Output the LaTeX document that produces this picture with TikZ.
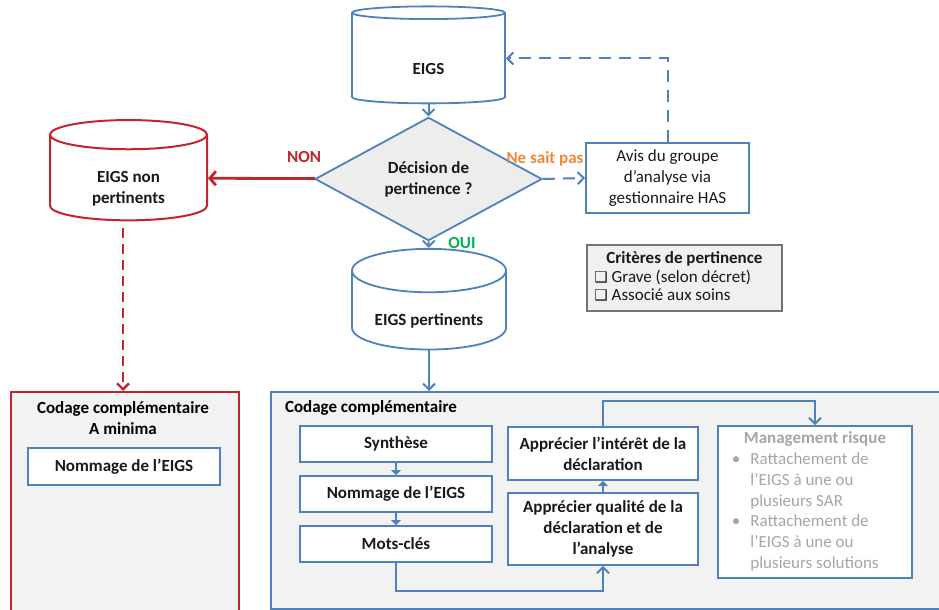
\documentclass[tikz,border=0pt]{standalone}
\usepackage{fontspec}
\setmainfont{Carlito}
\newfontfamily\symfont{DejaVu Sans}
\usetikzlibrary{arrows.meta, positioning, calc, shapes.geometric}
\definecolor{flowblue}{HTML}{4F81BD}
\definecolor{flowred}{HTML}{C0262D}
\definecolor{flowgreen}{HTML}{00B050}
\definecolor{floworange}{HTML}{F0883A}
\definecolor{panelgray}{HTML}{F2F2F2}
\definecolor{mgmtgray}{HTML}{A6A6A6}

\tikzset{
  txt/.style={font=\fontsize{8.5}{10.4}\selectfont, text=black!90},
  dbase/.style={txt, font=\fontsize{8.5}{10.4}\selectfont\bfseries, cylinder,
    shape border rotate=90, aspect=0.4, draw=flowblue, line width=0.9pt,
    fill=white, align=center, inner sep=0pt},
  stepbox/.style={txt, font=\fontsize{8.5}{10.4}\selectfont\bfseries,
    draw=flowblue, line width=0.9pt, fill=white, align=center, inner sep=0pt},
  arr/.style={draw=flowblue, line width=1pt, -{Straight Barb[length=3pt,width=6pt]}},
  smallarr/.style={draw=flowblue, line width=1.4pt, -{Triangle[length=2.5pt,width=5pt]}},
  lbl/.style={font=\fontsize{8.5}{10.4}\selectfont\bfseries},
}
% lifts the first line so the text sits low in a cylinder
\newcommand{\dbstrut}{\rule{0pt}{16pt}}

\begin{document}
\begin{tikzpicture}[x=0.5pt, y=-0.5pt]
  \useasboundingbox (0,0) rectangle (939,610);
  \clip (0,0) rectangle (939,610);

  % panels
  \node[draw=flowred, line width=1pt, fill=panelgray, minimum width=114pt,
    minimum height=115pt, inner sep=0pt, anchor=north west] (minbox) at (10,391) {};
  \node[draw=flowblue, line width=0.9pt, fill=panelgray, minimum width=340pt,
    minimum height=108.5pt, inner sep=0pt, anchor=north west] (codbox) at (270,391) {};
  \node[lbl, align=center, anchor=north] (mintitle) at (123,395)
    {Codage complémentaire\\A minima};
  \node[lbl, anchor=north west] (codtitle) at (278,394) {Codage complémentaire};

  % top of the flow
  \node[dbase, minimum width=76.5pt, minimum height=48.5pt] (eigs) at (428.5,58.5)
    {\dbstrut EIGS};
  \node[txt, font=\fontsize{8.5}{10.4}\selectfont\bfseries, diamond, draw=flowblue,
    line width=0.9pt, fill=black!7, align=center, inner sep=0pt,
    minimum width=113.5pt, minimum height=49pt] (dec) at (428.5,179)
    {Décision de\\pertinence ?};
  \node[dbase, draw=flowred, line width=1pt, minimum width=78.5pt,
    minimum height=50pt] (np) at (128.5,178) {\dbstrut EIGS non\\pertinents};
  \node[stepbox, font=\fontsize{8.5}{10.4}\selectfont, minimum width=81.5pt,
    minimum height=35pt] (avis) at (667.5,178)
    {Avis du groupe\\d’analyse via\\gestionnaire HAS};
  \node[txt, draw=black!55, line width=0.8pt, fill=black!6, inner sep=0pt,
    minimum width=97.5pt, minimum height=33pt] (crit) at (684.5,278)
    {\begin{tabular}{@{}l@{}}
      \multicolumn{1}{c}{\bfseries Critères de pertinence}\\[-1pt]
      {\symfont\fontsize{7.5}{8}\selectfont ❑} Grave (selon décret)\\[-1pt]
      {\symfont\fontsize{7.5}{8}\selectfont ❑} Associé aux soins
    \end{tabular}};
  \node[dbase, minimum width=77pt, minimum height=47.5pt] (pert) at (429,310.5)
    {\dbstrut EIGS pertinents};
  \coordinate (npfoot) at (123,228);

  % inside the panels
  \node[stepbox, minimum width=96pt, minimum height=18.5pt] (minnom) at (124,466.5)
    {Nommage de l’EIGS};
  \node[stepbox, minimum width=96pt, minimum height=18pt] (syn) at (396,444) {Synthèse};
  \node[stepbox, minimum width=96pt, minimum height=18pt] (nom) at (396,494)
    {Nommage de l’EIGS};
  \node[stepbox, minimum width=96pt, minimum height=18pt] (mots) at (396,544) {Mots-clés};
  \node[stepbox, minimum width=95pt, minimum height=26.5pt] (inter) at (603,453.5)
    {Apprécier l’intérêt de la\\déclaration};
  \node[stepbox, minimum width=95pt, minimum height=36pt] (qual) at (603,529)
    {Apprécier qualité de la\\déclaration et de\\l’analyse};
  \node[stepbox, font=\fontsize{8.5}{10.4}\selectfont, text=mgmtgray,
    minimum width=97pt, minimum height=76pt] (mgmt) at (815,502)
    {\begin{tabular}{@{}l@{\hspace{5pt}}l@{}}
      \multicolumn{2}{c}{\bfseries Management risque}\\
      \textbullet & Rattachement de\\
                  & l’EIGS à une ou\\
                  & plusieurs SAR\\
      \textbullet & Rattachement de\\
                  & l’EIGS à une ou\\
                  & plusieurs solutions
    \end{tabular}};

  % connectors
  \draw[arr] (eigs) -- (dec);
  \draw[draw=flowred, line width=1.4pt, -{Straight Barb[length=3pt,width=7pt]}]
    (dec) -- (np) node[lbl, text=flowred, pos=0.1, above=4pt] {NON};
  \draw[arr] (dec) -- (pert) node[lbl, text=flowgreen, pos=0.3, right=6pt] {OUI};
  \draw[arr, dashed, dash pattern=on 6pt off 4pt] (dec.east) -- (avis.west)
    node[lbl, text=floworange, pos=0.05, above=2.5pt] {Ne sait pas};
  \draw[arr, dashed, dash pattern=on 6pt off 4pt] (avis.north) |- (eigs.east);
  \draw[draw=flowred, line width=1.2pt, dashed, dash pattern=on 5pt off 3pt,
    -{Straight Barb[length=3pt,width=6pt]}] (npfoot) -- (npfoot |- minbox.north);
  \draw[arr] (pert.south) -- (pert.south |- codbox.north);
  \draw[smallarr] (syn) -- (nom);
  \draw[smallarr] (nom) -- (mots);
  \draw[arr] (mots.south) -- ++(0,28) -| (qual.south);
  \draw[smallarr] (qual) -- (inter);
  \draw[arr] (inter.north) -- ++(0,-25) -| (mgmt.north);
\end{tikzpicture}
\end{document}
